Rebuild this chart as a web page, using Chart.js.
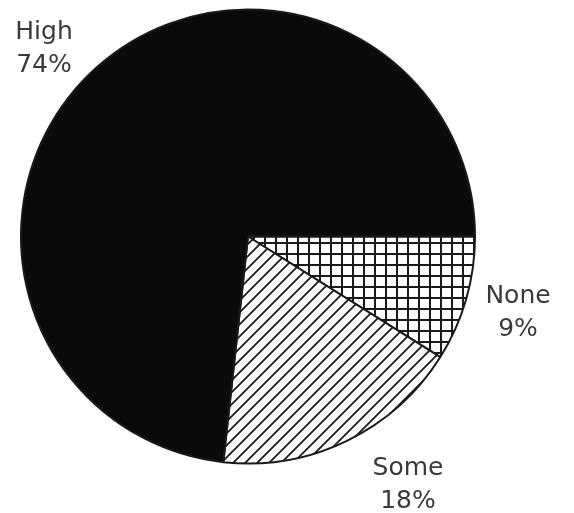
<!DOCTYPE html>
<html>
<head>
<meta charset="utf-8">
<script src="https://cdn.jsdelivr.net/npm/chart.js@4/dist/chart.umd.min.js"></script>
<style>
  html, body { margin: 0; padding: 0; background: #fff; }
  canvas { display: block; }
</style>
</head>
<body>
<canvas id="pieChart" width="574" height="513"></canvas>
<script>
// Data (clockwise from 3 o'clock)
const categories = ['None', 'Some', 'High'];
const shares = [9, 18, 74];
const shareLabels = ['9%', '18%', '74%'];

// Hatch patterns
function gridPattern() {
    const c = document.createElement('canvas');
    c.width = 11; c.height = 11;
    const ctx = c.getContext('2d');
    ctx.fillStyle = '#fff';
    ctx.fillRect(0, 0, 11, 11);
    ctx.fillStyle = '#1a1a1a';
    ctx.fillRect(0, 0, 2, 11);
    ctx.fillRect(0, 0, 11, 2);
    return ctx.createPattern(c, 'repeat');
}

function diagonalPattern() {
    const s = 12;
    const c = document.createElement('canvas');
    c.width = s; c.height = s;
    const ctx = c.getContext('2d');
    ctx.fillStyle = '#fff';
    ctx.fillRect(0, 0, s, s);
    ctx.strokeStyle = '#1a1a1a';
    ctx.lineWidth = 1.8;
    ctx.beginPath();
    ctx.moveTo(0, s); ctx.lineTo(s, 0);
    ctx.moveTo(-2, 2); ctx.lineTo(2, -2);
    ctx.moveTo(s - 2, s + 2); ctx.lineTo(s + 2, s - 2);
    ctx.stroke();
    return ctx.createPattern(c, 'repeat');
}

// Labels placed outside the pie, offsets relative to pie centre
const outsideLabels = {
    id: 'outsideLabels',
    afterDraw(chart, args, opts) {
        const ctx = chart.ctx;
        const arc = chart.getDatasetMeta(0).data[0];
        const cx = arc.x, cy = arc.y;
        ctx.save();
        ctx.fillStyle = opts.color;
        ctx.font = opts.font;
        ctx.textAlign = 'center';
        ctx.textBaseline = 'alphabetic';
        categories.forEach((name, i) => {
            const off = opts.offsets[i];
            ctx.fillText(name, cx + off[0], cy + off[1]);
            ctx.fillText(shareLabels[i], cx + off[0], cy + off[1] + opts.lineGap);
        });
        ctx.restore();
    }
};

const chartCanvas = document.getElementById('pieChart');
new Chart(chartCanvas, {
    type: 'pie',
    data: {
        labels: categories,
        datasets: [{
            data: shares,
            backgroundColor: [gridPattern(), diagonalPattern(), '#0a0a0a'],
            borderColor: '#1a1a1a',
            borderWidth: 2
        }]
    },
    options: {
        responsive: false,
        animation: false,
        rotation: 90,
        layout: { padding: { left: 20, right: 98, top: 8, bottom: 48 } },
        plugins: {
            legend: { display: false },
            tooltip: { enabled: false },
            outsideLabels: {
                color: '#3a3a3a',
                font: '25px "DejaVu Sans"',
                lineGap: 33,
                offsets: [[270, 66], [160, 238], [-204, -198]]
            }
        }
    },
    plugins: [outsideLabels]
});
</script>
</body>
</html>
